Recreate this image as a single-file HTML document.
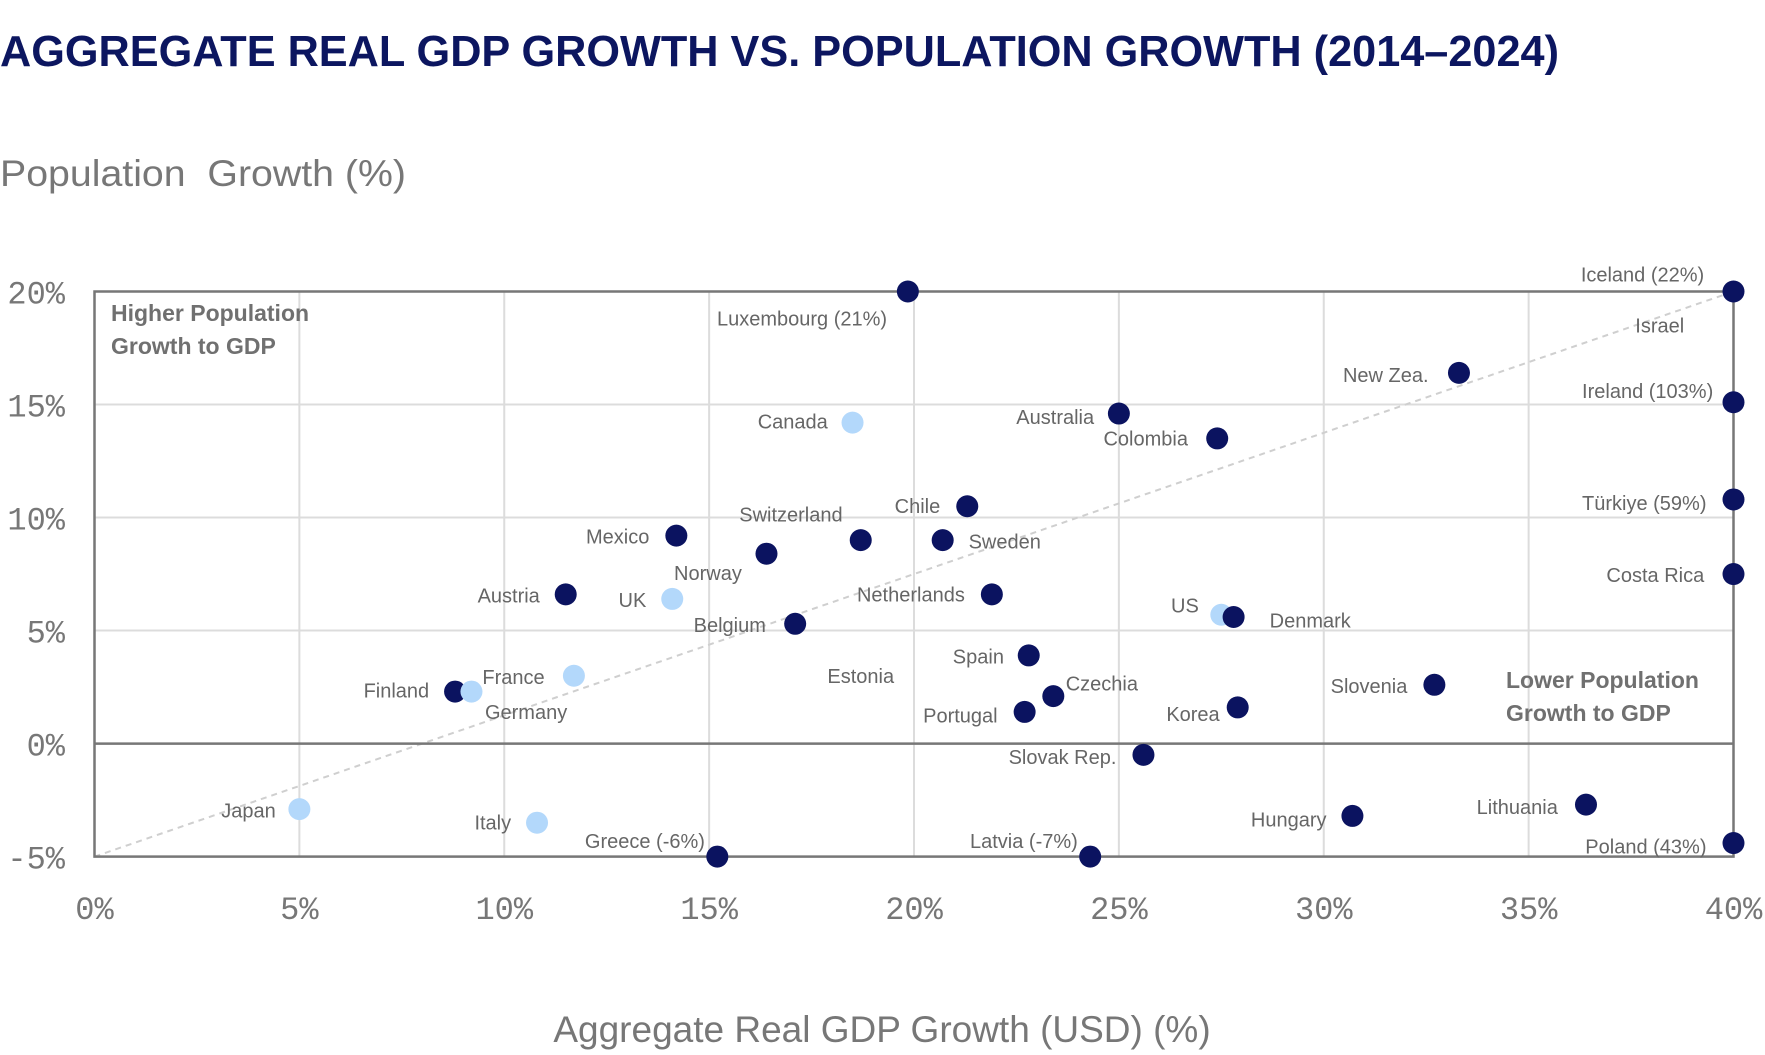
<!DOCTYPE html>
<html><head><meta charset="utf-8"><style>
html,body{margin:0;padding:0;background:#fff;width:1765px;height:1055px;overflow:hidden}
svg{display:block;font-family:"Liberation Sans",sans-serif}
</style></head><body>
<svg id="chart" width="1765" height="1055" viewBox="0 0 1765 1055" xmlns="http://www.w3.org/2000/svg">
<text x="0" y="66" font-size="44" font-weight="bold" fill="#0c1660" textLength="1559" lengthAdjust="spacingAndGlyphs">AGGREGATE REAL GDP GROWTH VS. POPULATION GROWTH (2014–2024)</text>
<text x="0" y="186" font-size="37" fill="#777" xml:space="preserve" style="white-space:pre" textLength="406" lengthAdjust="spacingAndGlyphs">Population  Growth (%)</text>
<text x="882" y="1042" font-size="37" fill="#777" text-anchor="middle">Aggregate Real GDP Growth (USD) (%)</text>
<g id="grid"></g><g id="trend"></g><g id="frame"></g><g id="ticks"></g><g id="marks"></g><g id="labels"></g>
<text x="111" y="321" font-size="23" font-weight="bold" fill="#707070">Higher Population</text>
<text x="111" y="354" font-size="23" font-weight="bold" fill="#707070">Growth to GDP</text>
<text x="1506" y="688" font-size="23" font-weight="bold" fill="#707070">Lower Population</text>
<text x="1506" y="721" font-size="23" font-weight="bold" fill="#707070">Growth to GDP</text>
</svg>
<script>
const countries=["Luxembourg (21%)","Iceland (22%)","New Zea.","Ireland (103%)","Australia","Colombia","Canada","Chile","Türkiye (59%)","Mexico","Switzerland","Sweden","Norway","Costa Rica","Austria","UK","Netherlands","US","Denmark","Belgium","Spain","France","Finland","Germany","Czechia","Portugal","Korea","Slovenia","Slovak Rep.","Japan","Italy","Greece (-6%)","Latvia (-7%)","Hungary","Lithuania","Poland (43%)"];
const gdpGrowth=[19.85,40,33.3,40,25.0,27.4,18.5,21.3,40,14.2,18.7,20.7,16.4,40,11.5,14.1,21.9,27.5,27.8,17.1,22.8,11.7,8.8,9.2,23.4,22.7,27.9,32.7,25.6,5.0,10.8,15.2,24.3,30.7,36.4,40];
const popGrowth=[20,20,16.4,15.1,14.6,13.5,14.2,10.5,10.8,9.2,9.0,9.0,8.4,7.5,6.6,6.4,6.6,5.7,5.6,5.3,3.9,3.0,2.3,2.3,2.1,1.4,1.6,2.6,-0.5,-2.9,-3.5,-5,-5,-3.2,-2.7,-4.4];
const isG7=[0,0,0,0,0,0,1,0,0,0,0,0,0,0,0,1,0,1,0,0,0,1,0,1,0,0,0,0,0,1,1,0,0,0,0,0];
const xTicks=[0,5,10,15,20,25,30,35,40];
const yTicks=[-5,0,5,10,15,20];
const trendX=[0,40];
const trendY=[-5,20];
const extraLabels=["Israel","Estonia"];
const extraX=[38.2,18.7];
const extraY=[18.5,3.0];
// label styling offsets (px, not data)
const off=[[-94,24,"middle"],[-26,-15,"end"],[-27,2,"end"],[-18,-10,"end"],[-22,3,"end"],[-26,0,"end"],[-22,-1,"end"],[-24,0,"end"],[-24,3,"end"],[-24,1,"end"],[-62,-23,"middle"],[23,1,"start"],[-52,17,"middle"],[-26,1,"end"],[-23,1,"end"],[-23,1,"end"],[-24,0,"end"],[-20,-8,"end"],[32,3,"start"],[-26,1,"end"],[-22,1,"end"],[-26,1,"end"],[-23,-1,"end"],[12,18,"start"],[11,-11,"start"],[-24,3,"end"],[-16,6,"end"],[-24,1,"end"],[-24,2,"end"],[-21,1,"end"],[-23,0,"end"],[-11,-14,"end"],[-11,-14,"end"],[-23,3,"end"],[-25,2,"end"],[-24,3,"end"]];
const S=1765/1568;
const X0=94.5,X1=1733.5,Y0=856.6,Y1=291.5;
const xs=v=>X0+(v-0)/(40-0)*(X1-X0);
const ys=v=>Y0-(v+5)/(25)*(Y0-Y1);
const NS="http://www.w3.org/2000/svg";
function mk(t,a,p){const e=document.createElementNS(NS,t);for(const k in a)e.setAttribute(k,a[k]);p.appendChild(e);return e;}
const grid=document.getElementById('grid'),frame=document.getElementById('frame'),ticks=document.getElementById('ticks'),marks=document.getElementById('marks'),labels=document.getElementById('labels'),trend=document.getElementById('trend');
xTicks.forEach(t=>{
 const l=mk('line',{x1:xs(t),x2:xs(t),y1:Y1,y2:Y0,stroke:'#dcdcdc','stroke-width':2},grid);
 
 
 const tx=mk('text',{x:xs(t),y:919,'font-size':32,fill:'#777','text-anchor':'middle','font-family':'Liberation Mono, monospace'},ticks);
 tx.textContent=t+'%';
 
 
});
yTicks.forEach(t=>{
 const l=mk('line',{x1:X0,x2:X1,y1:ys(t),y2:ys(t),stroke:'#dcdcdc','stroke-width':2},grid);
 
 
 const tx=mk('text',{x:65,y:ys(t)+12,'font-size':32,fill:'#777','text-anchor':'end','font-family':'Liberation Mono, monospace'},ticks);
 tx.textContent=t+'%';
 
 
});
const tl=mk('line',{x1:xs(trendX[0]),y1:ys(trendY[0]),x2:xs(trendX[1]),y2:ys(trendY[1]),stroke:'#cfcfcf','stroke-width':2,'stroke-dasharray':'6,5'},trend);


const fr=mk('rect',{x:X0,y:Y1,width:X1-X0,height:Y0-Y1,fill:'none',stroke:'#777','stroke-width':2.5},frame);


const zl=mk('line',{x1:X0,x2:X1,y1:ys(0),y2:ys(0),stroke:'#777','stroke-width':2.5},frame);


countries.forEach((c,i)=>{
 const cx=xs(gdpGrowth[i]),cy=ys(popGrowth[i]);
 const d=mk('circle',{cx:cx,cy:cy,r:11,fill:isG7[i]?'#b3d8fb':'#0b1360'},marks);
 
 
 const o=off[i];
 const t=mk('text',{x:cx+o[0]*S,y:cy+o[1]*S+7,'font-size':20,fill:'#666','text-anchor':o[2]},labels);
 t.textContent=c;
 
 
});
extraLabels.forEach((c,i)=>{
 const t=mk('text',{x:xs(extraX[i]),y:ys(extraY[i])+7,'font-size':20,fill:'#666','text-anchor':'middle'},labels);
 t.textContent=c;
 
 
});
</script>
</body></html>
